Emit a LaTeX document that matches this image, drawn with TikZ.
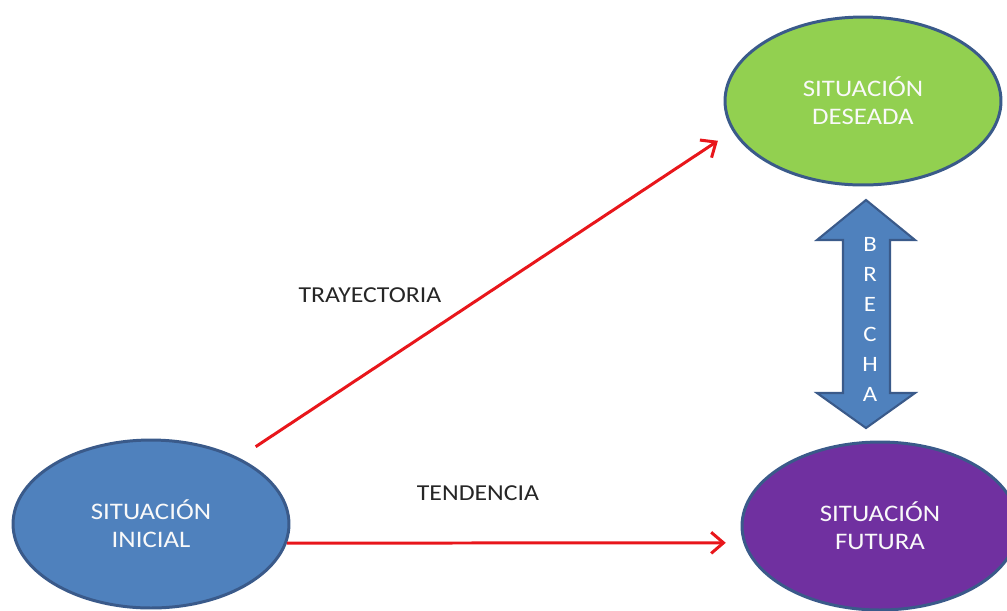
\documentclass[tikz,border=0pt]{standalone}
\usepackage{fontspec}
\setmainfont{Carlito}[FakeStretch=1.13]
\usepackage{tikz}
\usetikzlibrary{shapes.geometric,arrows.meta}
\definecolor{verde}{HTML}{92D050}
\definecolor{azul}{HTML}{4F81BD}
\definecolor{morado}{HTML}{7030A0}
\definecolor{borde}{HTML}{3A5A8A}
\definecolor{rojo}{HTML}{E8161B}
\begin{document}
\begin{tikzpicture}[x=0.02cm, y=-0.02cm,
	situacion/.style={draw=borde, line width=1.7pt, ellipse, minimum width=5.52cm, minimum height=3.36cm, inner sep=0pt, align=center, text=white!95!gray, font=\fontsize{13.5}{16}\selectfont},
	flecha/.style={draw=rojo, line width=1.7pt, -{Straight Barb[length=7pt, width=12pt, line width=1.7pt]}},
	etiqueta/.style={inner sep=0pt, text=black!85, font=\fontsize{13}{15}\selectfont},
	letra/.style={inner sep=0pt, text=white, font=\fontsize{12.5}{13}\selectfont}]
	\useasboundingbox (0,0) rectangle (1007,610);
	\node [situacion, fill=verde] (deseada) at (863,101){SITUACIÓN\\DESEADA};
	\node [situacion, fill=azul] (inicial) at (151,524){SITUACIÓN\\INICIAL};
	\node [situacion, fill=morado] (futura) at (880,526){SITUACIÓN\\FUTURA};
	\node [etiqueta] (trayectoria) at (370,295){TRAYECTORIA};
	\node [etiqueta] (tendencia) at (478,493){TENDENCIA};
\foreach \from/\to/\s in {inicial.37/deseada.193/0.4cm, inicial.-8/futura.187/0cm}
\draw [flecha, shorten <=\s, shorten >=0.35cm] (\from)--(\to);
	\draw [fill=azul, draw=borde, line width=1.2pt, line join=miter]
		(866,200) -- (915,240) -- (890,240) -- (890,393) -- (915,393) -- (866,428)
		-- (817,393) -- (843,393) -- (843,240) -- (817,240) -- cycle;
\foreach \l [count=\i] in {B,R,E,C,H,A}
	\node [letra] (brecha\i) at (870,214+30*\i){\l};
\end{tikzpicture}
\end{document}
